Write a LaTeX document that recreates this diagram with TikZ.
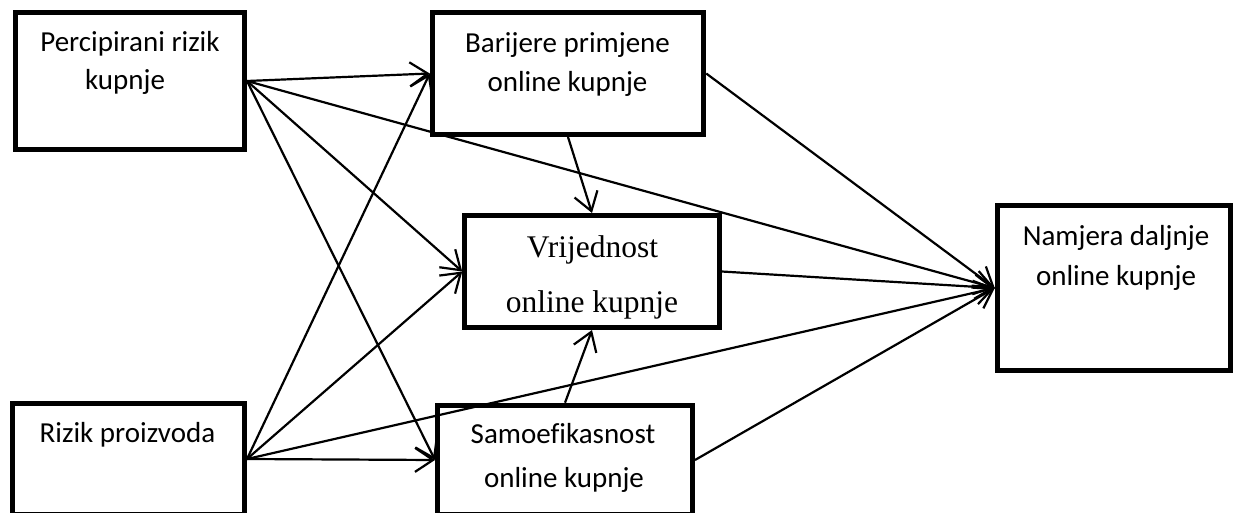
\documentclass[tikz,border=0pt]{standalone}
\usepackage{fontspec}
\setmainfont[Ligatures=NoCommon]{Carlito}
\newfontfamily\timesf{Liberation Serif}
\usetikzlibrary{arrows.meta}
\begin{document}
\begin{tikzpicture}[x=1pt,y=-1pt,
  box/.style={draw, line width=5pt, inner sep=0pt},
  txt/.style={anchor=base, inner sep=0pt, font=\fontsize{29}{35}\selectfont},
  ttxt/.style={anchor=base, inner sep=0pt, font=\timesf\fontsize{31.5}{38}\selectfont},
  conn/.style={line width=2.2pt, -{Straight Barb[length=18pt,width=24pt,line width=2.2pt]}}]
\useasboundingbox (0,0) rectangle (1234,513);
\node[box, minimum width=229pt, minimum height=137pt] (p) at (130,81) {};
\node[box, minimum width=271.5pt, minimum height=122pt] (b) at (568,73.5) {};
\node[box, minimum width=254.5pt, minimum height=112pt] (v) at (592,271.5) {};
\node[box, minimum width=232pt, minimum height=111.5pt] (r) at (128.5,459) {};
\node[box, minimum width=255pt, minimum height=109.5pt] (s) at (565,460) {};
\node[box, minimum width=233.5pt, minimum height=165pt] (n) at (1114,288) {};
\node[txt] (p1) at (130,52) {Percipirani rizik};
\node[txt] (p2) at (125,90) {kupnje};
\node[txt] (b1) at (567.5,53) {Barijere primjene};
\node[txt] (b2) at (567.5,92) {online kupnje};
\node[ttxt] (v1) at (592.5,257) {Vrijednost};
\node[ttxt] (v2) at (592,312) {online kupnje};
\node[txt] (r1) at (127.5,442) {Rizik proizvoda};
\node[txt] (s1) at (563,443) {Samoefikasnost};
\node[txt] (s2) at (564,487) {online kupnje};
\node[txt] (n1) at (1116,245) {Namjera daljnje};
\node[txt] (n2) at (1116,285) {online kupnje};
% from Percipirani
\draw[conn] (p.east) -- (b.west);
\draw[conn] (p.east) -- (v.west);
\draw[conn] (p.east) -- (s.west);
\draw[conn] (p.east) -- (n.west);
% from Rizik
\draw[conn] (r.east) -- (b.west);
\draw[conn] (r.east) -- (v.west);
\draw[conn] (r.east) -- (s.west);
\draw[conn] (r.east) -- (n.west);
% mediators
\draw[conn] (b.south) -- (v.north);
\draw[conn] (s.north) -- (v.south);
\draw[conn] (b.east) -- (n.west);
\draw[conn] (v.east) -- (n.west);
\draw[conn] (s.east) -- (n.west);
\end{tikzpicture}
\end{document}
